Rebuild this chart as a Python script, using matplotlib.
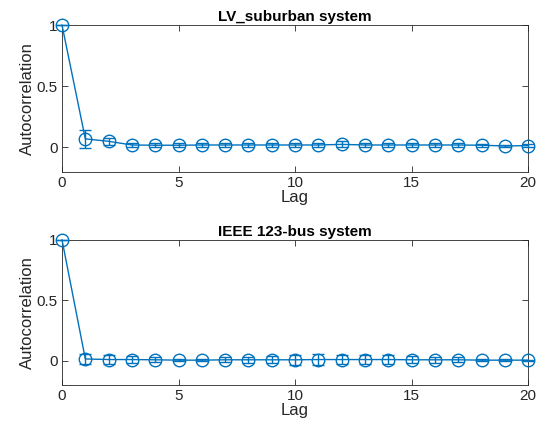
import matplotlib
matplotlib.use("Agg")
import matplotlib.pyplot as plt
import numpy as np

plt.rcParams['font.family'] = ['Liberation Sans', 'DejaVu Sans']

lags = list(range(21))
titles = ["LV_suburban system", "IEEE 123-bus system"]
lv_acf = [1.0, 0.07, 0.05, 0.02, 0.018, 0.018, 0.02, 0.02, 0.02, 0.02, 0.02, 0.02,
          0.025, 0.02, 0.02, 0.02, 0.02, 0.02, 0.018, 0.012, 0.015]
lv_err = [0.0, 0.075, 0.03, 0.02, 0.015, 0.015, 0.018, 0.018, 0.018, 0.02, 0.02, 0.02,
          0.025, 0.02, 0.02, 0.02, 0.018, 0.018, 0.012, 0.01, 0.01]
ieee_acf = [1.0, 0.015, 0.01, 0.01, 0.008, 0.005, 0.005, 0.008, 0.008, 0.008, 0.008, 0.01,
            0.01, 0.01, 0.01, 0.008, 0.008, 0.008, 0.005, 0.005, 0.005]
ieee_err = [0.0, 0.045, 0.04, 0.03, 0.02, 0.01, 0.01, 0.02, 0.025, 0.03, 0.04, 0.045,
            0.04, 0.04, 0.035, 0.03, 0.025, 0.02, 0.01, 0.01, 0.005]

color = '#0072BD'
fig = plt.figure(figsize=(5.44, 4.33), dpi=100)
rects = [[0.114, 0.603, 0.857, 0.339], [0.114, 0.111, 0.857, 0.335]]
for rect, title, acf, err in zip(rects, titles, [lv_acf, ieee_acf], [lv_err, ieee_err]):
    ax = fig.add_axes(rect)
    ax.errorbar(lags, acf, yerr=err, color=color, marker='o', markersize=9,
                markerfacecolor='none', markeredgewidth=1.0, linewidth=1.0,
                capsize=4, elinewidth=1.0, clip_on=False, zorder=3)
    ax.set_xlim(0, 20)
    ax.set_ylim(-0.2, 1.0)
    ax.set_xticks([0, 5, 10, 15, 20])
    ax.set_yticks([0, 0.5, 1])
    ax.set_yticklabels(['0', '0.5', '1'])
    ax.tick_params(direction='in', length=4, width=0.6, labelsize=11, colors='#262626',
                   top=True, right=True, pad=3)
    for s in ax.spines.values():
        s.set_linewidth(0.6)
        s.set_color('#262626')
    ax.set_xlabel('Lag', fontsize=12, color='#262626', labelpad=0)
    ax.set_ylabel('Autocorrelation', fontsize=12, color='#262626', labelpad=1)
    ax.set_title(title, fontsize=11, fontweight='bold', color='#000000', pad=3)

fig.savefig('out.png', dpi=100)
